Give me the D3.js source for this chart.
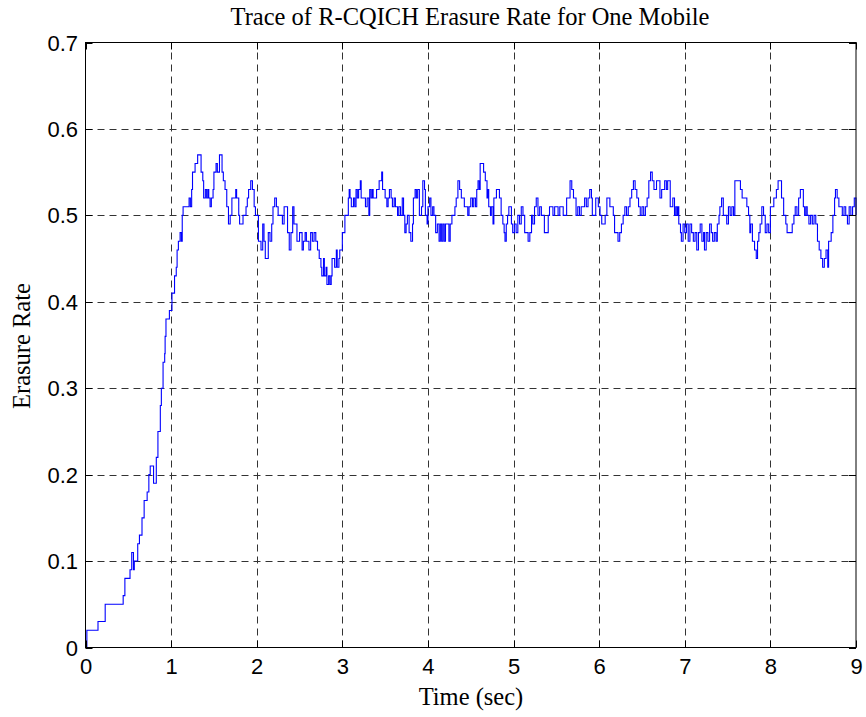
<!DOCTYPE html>
<html>
<head>
<meta charset="utf-8">
<script src="https://cdn.jsdelivr.net/npm/d3@7"></script>
<style>
html,body{margin:0;padding:0;background:#fff;}
svg{display:block;}
</style>
</head>
<body>
<svg id="chart" width="866" height="717"></svg>
<script>
// ---- data ----
const title = "Trace of R-CQICH Erasure Rate for One Mobile";
const xLabel = "Time (sec)";
const yLabel = "Erasure Rate";
const xTicks = [0,1,2,3,4,5,6,7,8,9];
const yTicks = [0,0.1,0.2,0.3,0.4,0.5,0.6,0.7];
const yTickLabels = ["0","0.1","0.2","0.3","0.4","0.5","0.6","0.7"];

const time = [
0,0.016,0.146,0.23,0.44,0.46,0.49,0.52,0.54,0.56,0.57,0.61,0.63,0.66,0.685,0.72,0.74,0.756,0.776,0.795,0.815,0.827,0.846,0.874,0.886,
0.906,0.925,0.93,0.94,0.98,1.01,1.04,1.06,1.07,1.085,1.105,1.12,1.13,1.14,1.21,1.225,1.24,1.25,1.28,1.31,1.35,1.37,1.38,1.40,1.415,1.43,1.44,1.455,1.47,1.49,1.50,1.525,1.54,1.565,1.595,1.61,1.63,1.65,1.67,1.69,1.71,1.755,1.765,1.79,1.80,1.84,1.875,1.89,1.905,1.93,1.95,1.97,1.985,
2.02,2.05,2.07,2.085,2.10,2.135,2.155,2.175,2.19,2.21,2.23,2.25,2.30,2.32,2.36,2.38,2.40,2.42,2.435,2.47,2.50,2.53,2.545,2.565,2.58,2.61,2.63,2.65,2.67,2.69,
2.71,2.73,2.75,2.76,2.78,2.79,2.81,2.82,2.84,2.855,2.87,2.88,2.91,2.93,2.94,2.96,2.97,3.00,3.03,3.07,3.08,3.09,3.105,3.13,3.145,3.16,3.175,3.19,3.21,3.22,3.27,3.29,3.31,3.32,3.335,3.35,3.36,3.40,3.43,3.46,3.47,3.50,3.52,3.535,3.55,3.57,3.585,3.605,3.62,3.645,3.66,3.68,3.70,3.715,3.73,3.745,3.76,3.78,3.80,3.82,3.83,3.85,3.865,3.88,3.90,3.925,3.94,3.96,3.97,3.99,
4.00,4.02,4.035,4.055,4.07,4.09,4.11,4.13,4.145,4.16,4.175,4.19,4.205,4.245,4.26,4.28,4.315,4.33,4.35,4.37,4.39,4.425,4.465,
4.48,4.50,4.52,4.535,4.555,4.57,4.585,4.60,4.61,4.65,4.67,4.69,4.70,4.71,4.73,4.74,4.76,4.77,4.80,4.835,4.855,4.875,4.89,4.90,4.915,4.93,4.945,4.975,4.99,
5.01,5.03,5.05,5.07,5.09,5.11,5.13,5.17,5.19,5.21,5.225,5.245,5.265,5.285,5.305,5.325,5.36,5.405,5.42,5.46,5.48,5.52,5.54,5.58,5.62,5.66,5.68,5.70,5.73,5.75,5.77,5.79,5.83,5.85,5.87,5.89,5.91,5.92,5.96,5.99,
6.01,6.03,6.07,6.09,6.125,6.165,6.18,6.22,6.24,6.26,6.28,6.30,6.32,6.34,6.36,6.38,6.40,6.42,6.44,6.46,6.48,6.50,6.52,6.54,6.56,6.58,6.60,6.62,6.64,6.67,
6.71,6.73,6.765,6.785,6.80,6.83,6.86,6.88,6.895,6.91,6.92,6.93,6.95,6.96,6.98,
7.00,7.02,7.04,7.06,7.08,7.10,7.12,7.14,7.16,7.18,7.20,7.22,7.23,7.25,7.27,7.29,7.31,7.325,7.345,7.365,7.38,7.40,7.41,7.43,7.45,7.49,7.51,7.53,7.55,7.57,7.585,7.65,7.67,7.725,7.745,7.76,7.77,7.79,7.815,7.835,7.85,7.865,7.88,7.90,7.92,7.94,7.96,7.98,
8.00,8.04,8.07,8.09,8.13,8.155,8.18,8.195,8.255,8.275,8.29,8.31,8.33,8.35,8.385,8.40,8.415,8.43,8.45,8.47,8.49,8.51,8.53,8.55,8.57,8.59,8.61,8.63,8.65,8.67,8.68,8.71,8.73,8.75,8.76,8.78,8.80,8.84,8.86,8.88,8.90,8.92,8.94,8.96,8.98,9.00
];
const erasure = [
0,0.02,0.03,0.05,0.06,0.08,0.08,0.09,0.11,0.09,0.10,0.12,0.13,0.15,0.17,0.18,0.20,0.21,0.21,0.19,0.19,0.22,0.25,0.28,0.30,
0.33,0.34,0.36,0.38,0.39,0.41,0.43,0.44,0.46,0.47,0.48,0.47,0.50,0.51,0.52,0.51,0.53,0.55,0.56,0.57,0.55,0.54,0.52,0.53,0.52,0.53,0.52,0.51,0.52,0.53,0.55,0.56,0.55,0.57,0.55,0.54,0.53,0.51,0.49,0.50,0.52,0.53,0.52,0.50,0.49,0.50,0.51,0.52,0.53,0.54,0.53,0.51,0.50,
0.47,0.46,0.49,0.47,0.45,0.48,0.47,0.49,0.51,0.52,0.51,0.50,0.49,0.51,0.48,0.46,0.48,0.51,0.49,0.47,0.48,0.46,0.47,0.48,0.47,0.46,0.48,0.47,0.48,0.47,
0.46,0.45,0.44,0.43,0.45,0.43,0.44,0.42,0.43,0.42,0.43,0.45,0.44,0.46,0.44,0.45,0.46,0.48,0.50,0.52,0.53,0.52,0.51,0.52,0.51,0.53,0.52,0.53,0.54,0.52,0.51,0.52,0.50,0.53,0.52,0.53,0.52,0.53,0.54,0.55,0.53,0.52,0.51,0.52,0.53,0.52,0.51,0.52,0.51,0.50,0.51,0.50,0.52,0.50,0.48,0.49,0.50,0.48,0.47,0.49,0.52,0.53,0.52,0.53,0.50,0.51,0.54,0.53,0.50,0.49,
0.51,0.52,0.50,0.51,0.50,0.48,0.49,0.47,0.49,0.47,0.49,0.47,0.49,0.47,0.49,0.50,0.51,0.52,0.54,0.53,0.52,0.51,0.50,
0.51,0.52,0.51,0.52,0.51,0.53,0.54,0.53,0.56,0.55,0.54,0.52,0.53,0.51,0.50,0.51,0.49,0.52,0.53,0.52,0.50,0.49,0.48,0.47,0.49,0.50,0.51,0.49,0.48,
0.49,0.48,0.50,0.49,0.51,0.50,0.48,0.47,0.48,0.50,0.49,0.51,0.52,0.50,0.51,0.50,0.48,0.50,0.51,0.50,0.51,0.50,0.51,0.50,0.52,0.54,0.53,0.52,0.50,0.51,0.50,0.51,0.52,0.51,0.52,0.53,0.52,0.50,0.52,0.51,
0.50,0.49,0.50,0.52,0.51,0.50,0.48,0.47,0.48,0.49,0.50,0.51,0.50,0.51,0.52,0.53,0.54,0.53,0.52,0.51,0.50,0.51,0.50,0.51,0.52,0.54,0.55,0.54,0.53,0.54,
0.52,0.53,0.54,0.53,0.54,0.51,0.52,0.50,0.51,0.50,0.51,0.49,0.48,0.47,0.49,
0.48,0.49,0.47,0.49,0.48,0.47,0.48,0.46,0.48,0.49,0.47,0.48,0.46,0.48,0.47,0.49,0.48,0.47,0.48,0.47,0.49,0.50,0.51,0.52,0.50,0.49,0.51,0.50,0.51,0.50,0.54,0.53,0.52,0.51,0.50,0.48,0.49,0.47,0.46,0.45,0.47,0.48,0.49,0.51,0.50,0.48,0.49,0.48,
0.51,0.52,0.53,0.54,0.52,0.50,0.49,0.48,0.49,0.50,0.51,0.50,0.52,0.53,0.51,0.50,0.51,0.50,0.49,0.50,0.49,0.50,0.49,0.47,0.46,0.45,0.44,0.45,0.46,0.44,0.47,0.48,0.50,0.52,0.53,0.52,0.51,0.50,0.51,0.50,0.49,0.51,0.50,0.51,0.52,0.50
];

// ---- drawing ----
const plotL = 85.5, plotR = 856, plotT = 42.5, plotB = 647.5;
const svg = d3.select("#chart");

const x = d3.scaleLinear().domain([0, 9]).range([plotL, plotR]);
const y = d3.scaleLinear().domain([0, 0.7]).range([plotB, plotT]);

// grid
const grid = svg.append("g").attr("stroke", "#333").attr("stroke-width", 1)
  .attr("stroke-dasharray", "7,5").attr("fill", "none");
grid.selectAll("line.v").data(xTicks.slice(1, -1)).join("line")
  .attr("x1", d => Math.round(x(d)) + 0.5).attr("x2", d => Math.round(x(d)) + 0.5)
  .attr("y1", plotB).attr("y2", plotT);
grid.selectAll("line.h").data(yTicks.slice(1, -1)).join("line")
  .attr("x1", plotL).attr("x2", plotR)
  .attr("y1", d => Math.round(y(d)) + 0.5).attr("y2", d => Math.round(y(d)) + 0.5);

// trace
const n = Math.min(time.length, erasure.length);
const pts = d3.range(n).map(i => [time[i], erasure[i]]);
const line = d3.line().x(d => x(d[0])).y(d => y(d[1])).curve(d3.curveStepAfter);
svg.append("path").datum(pts)
  .attr("d", line)
  .attr("fill", "none")
  .attr("stroke", "#0000ff")
  .attr("stroke-width", 1.1);

// box
svg.append("rect").attr("x", plotL).attr("y", plotT)
  .attr("width", plotR - plotL).attr("height", plotB - plotT)
  .attr("fill", "none").attr("stroke", "#000").attr("stroke-width", 1);

// axes (labels via d3 axis)
const sans = "Liberation Sans, Arial, sans-serif";
const xAxis = d3.axisBottom(x).tickValues(xTicks).tickFormat(d3.format("d")).tickSize(0).tickPadding(0);
const gx = svg.append("g").attr("transform", `translate(0,${plotB})`).call(xAxis);
gx.select(".domain").remove();
gx.selectAll("text").attr("dy", null).attr("y", 26.5)
  .attr("font-family", sans).attr("font-size", 22).attr("fill", "#000");

const yAxis = d3.axisLeft(y).tickValues(yTicks).tickFormat((d, i) => yTickLabels[i]).tickSize(0).tickPadding(0);
const gy = svg.append("g").attr("transform", `translate(${plotL},0)`).call(yAxis);
gy.select(".domain").remove();
gy.selectAll("text").attr("dy", null).attr("x", -7.5).attr("y", 7.5)
  .attr("font-family", sans).attr("font-size", 22).attr("fill", "#000");

// inward ticks (MATLAB style)
const tk = svg.append("g").attr("stroke", "#000").attr("stroke-width", 1);
tk.selectAll("line.bx").data(xTicks).join("line")
  .attr("x1", d => Math.round(x(d)) + 0.5).attr("x2", d => Math.round(x(d)) + 0.5)
  .attr("y1", plotB).attr("y2", plotB - 7);
tk.selectAll("line.tx").data(xTicks).join("line")
  .attr("x1", d => Math.round(x(d)) + 0.5).attr("x2", d => Math.round(x(d)) + 0.5)
  .attr("y1", plotT).attr("y2", plotT + 7);
tk.selectAll("line.ly").data(yTicks).join("line")
  .attr("x1", plotL).attr("x2", plotL + 7)
  .attr("y1", d => Math.round(y(d)) + 0.5).attr("y2", d => Math.round(y(d)) + 0.5);
tk.selectAll("line.ry").data(yTicks).join("line")
  .attr("x1", plotR).attr("x2", plotR - 7)
  .attr("y1", d => Math.round(y(d)) + 0.5).attr("y2", d => Math.round(y(d)) + 0.5);

// titles
const serif = "Liberation Serif, Times New Roman, serif";
svg.append("text").attr("x", 470).attr("y", 25).attr("text-anchor", "middle")
  .attr("font-family", serif).attr("font-size", 24.5).attr("fill", "#000").text(title);
svg.append("text").attr("x", 471).attr("y", 705).attr("text-anchor", "middle")
  .attr("font-family", serif).attr("font-size", 24.5).attr("fill", "#000").text(xLabel);
svg.append("text").attr("transform", "translate(30,346) rotate(-90)").attr("text-anchor", "middle")
  .attr("font-family", serif).attr("font-size", 24.5).attr("fill", "#000").text(yLabel);
</script>
</body>
</html>
